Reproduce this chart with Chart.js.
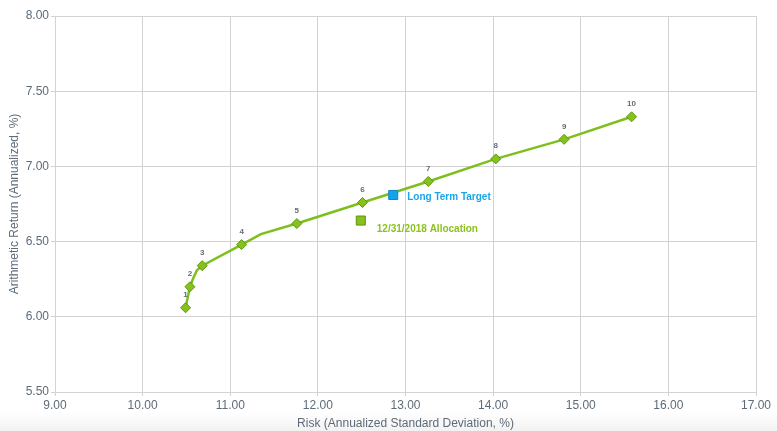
<!DOCTYPE html>
<html>
<head>
<meta charset="utf-8">
<script src="https://cdn.jsdelivr.net/npm/chart.js@4/dist/chart.umd.min.js"></script>
<style>
  html, body { margin: 0; padding: 0; }
  body { width: 777px; height: 431px; background: linear-gradient(to bottom, #ffffff 0px, #ffffff 412px, #f2f2f2 431px); overflow: hidden; }
  #wrap { position: relative; width: 777px; height: 431px; }
</style>
</head>
<body>
<div id="wrap"><canvas id="c" width="777" height="431"></canvas></div>
<script>
// Efficient frontier portfolios (risk %, return %)
const portfolioLabels = ["1","2","3","4","5","6","7","8","9","10"];
const portfolioRisk   = [10.49, 10.54, 10.68, 11.13, 11.76, 12.51, 13.26, 14.03, 14.81, 15.58];
const portfolioReturn = [6.06, 6.20, 6.34, 6.48, 6.62, 6.76, 6.90, 7.05, 7.18, 7.33];

// Frontier curve (includes unlabeled bend points)
const frontierRisk   = [10.49, 10.54, 10.58, 10.62, 10.68, 11.13, 11.35, 11.76, 12.51, 13.26, 14.03, 14.81, 15.58];
const frontierReturn = [6.06, 6.20, 6.26, 6.31, 6.34, 6.48, 6.55, 6.62, 6.76, 6.90, 7.05, 7.18, 7.33];

const targetName = "Long Term Target";
const targetRisk = [12.86];
const targetReturn = [6.81];

const allocationName = "12/31/2018 Allocation";
const allocationRisk = [12.49];
const allocationReturn = [6.64];

const xTitle = "Risk (Annualized Standard Deviation, %)";
const yTitle = "Arithmetic Return (Annualized, %)";

const toXY = (xs, ys) => xs.map((x, i) => ({ x: x, y: ys[i] }));

const labelPlugin = {
  id: 'pointLabels',
  afterDatasetsDraw(chart) {
    const ctx = chart.ctx;
    ctx.save();
    chart.data.datasets.forEach((ds, di) => {
      const meta = chart.getDatasetMeta(di);
      if (!ds.pointText) return;
      meta.data.forEach((el, i) => {
        const t = ds.pointText[i];
        if (!t) return;
        ctx.font = t.font;
        ctx.fillStyle = t.color;
        ctx.textAlign = t.align;
        ctx.textBaseline = 'middle';
        ctx.fillText(t.text, el.x + t.dx, el.y + t.dy);
      });
    });
    ctx.restore();
  }
};

const tickColor = '#5e6b78';
const gridColor = '#d3d3d3';

new Chart(document.getElementById('c'), {
  type: 'scatter',
  data: {
    datasets: [
      {
        label: 'Frontier',
        data: toXY(frontierRisk, frontierReturn),
        showLine: true,
        borderColor: '#7dbf1c',
        borderWidth: 2.5,
        pointRadius: 0,
        tension: 0,
        fill: false,
        order: 3
      },
      {
        label: 'Portfolios',
        data: toXY(portfolioRisk, portfolioReturn),
        showLine: false,
        pointStyle: 'rectRot',
        pointRadius: 5,
        backgroundColor: '#86c21b',
        borderColor: '#5f9510',
        borderWidth: 1,
        order: 2,
        pointText: portfolioLabels.map(l => ({ text: l, dx: 0, dy: -13, font: 'bold 8px "Liberation Sans", Arial, sans-serif', color: '#646d78', align: 'center' }))
      },
      {
        label: targetName,
        data: toXY(targetRisk, targetReturn),
        pointStyle: 'rect',
        pointRadius: 6.4,
        backgroundColor: '#13a3ea',
        borderColor: '#1087c4',
        borderWidth: 1,
        order: 1,
        pointText: [{ text: targetName, dx: 14, dy: 2, font: 'bold 10px "Liberation Sans", Arial, sans-serif', color: '#1aa5ea', align: 'left' }]
      },
      {
        label: allocationName,
        data: toXY(allocationRisk, allocationReturn),
        pointStyle: 'rect',
        pointRadius: 6.4,
        backgroundColor: '#86c21b',
        borderColor: '#5f9510',
        borderWidth: 1,
        order: 1,
        pointText: [{ text: allocationName, dx: 16, dy: 9, font: 'bold 10px "Liberation Sans", Arial, sans-serif', color: '#8cc21c', align: 'left' }]
      }
    ]
  },
  options: {
    responsive: false,
    animation: false,
    devicePixelRatio: 1,
    layout: { padding: { top: 16, right: 21, left: 0, bottom: 0 } },
    plugins: { legend: { display: false }, tooltip: { enabled: false } },
    scales: {
      x: {
        type: 'linear',
        min: 9, max: 17,
        ticks: {
          stepSize: 1,
          color: tickColor,
          font: { family: '"Liberation Sans", Arial, sans-serif', size: 12 },
          padding: 2,
          callback: v => Number(v).toFixed(2)
        },
        grid: { color: gridColor, lineWidth: 1, tickLength: 4, drawTicks: true },
        border: { color: gridColor },
        title: { display: true, text: xTitle, color: tickColor, font: { family: '"Liberation Sans", Arial, sans-serif', size: 12 }, padding: { top: 6, bottom: 0 } },
        afterFit: s => { s.height = 39; }
      },
      y: {
        type: 'linear',
        min: 5.5, max: 8,
        ticks: {
          stepSize: 0.5,
          color: tickColor,
          font: { family: '"Liberation Sans", Arial, sans-serif', size: 12 },
          padding: 2,
          callback: v => Number(v).toFixed(2)
        },
        grid: { color: gridColor, lineWidth: 1, tickLength: 4, drawTicks: true },
        border: { color: gridColor },
        title: { display: true, text: yTitle, color: tickColor, font: { family: '"Liberation Sans", Arial, sans-serif', size: 12 }, padding: { top: 7, bottom: 4 } },
        afterFit: s => { s.width = 55; }
      }
    }
  },
  plugins: [labelPlugin]
});
</script>
</body>
</html>
